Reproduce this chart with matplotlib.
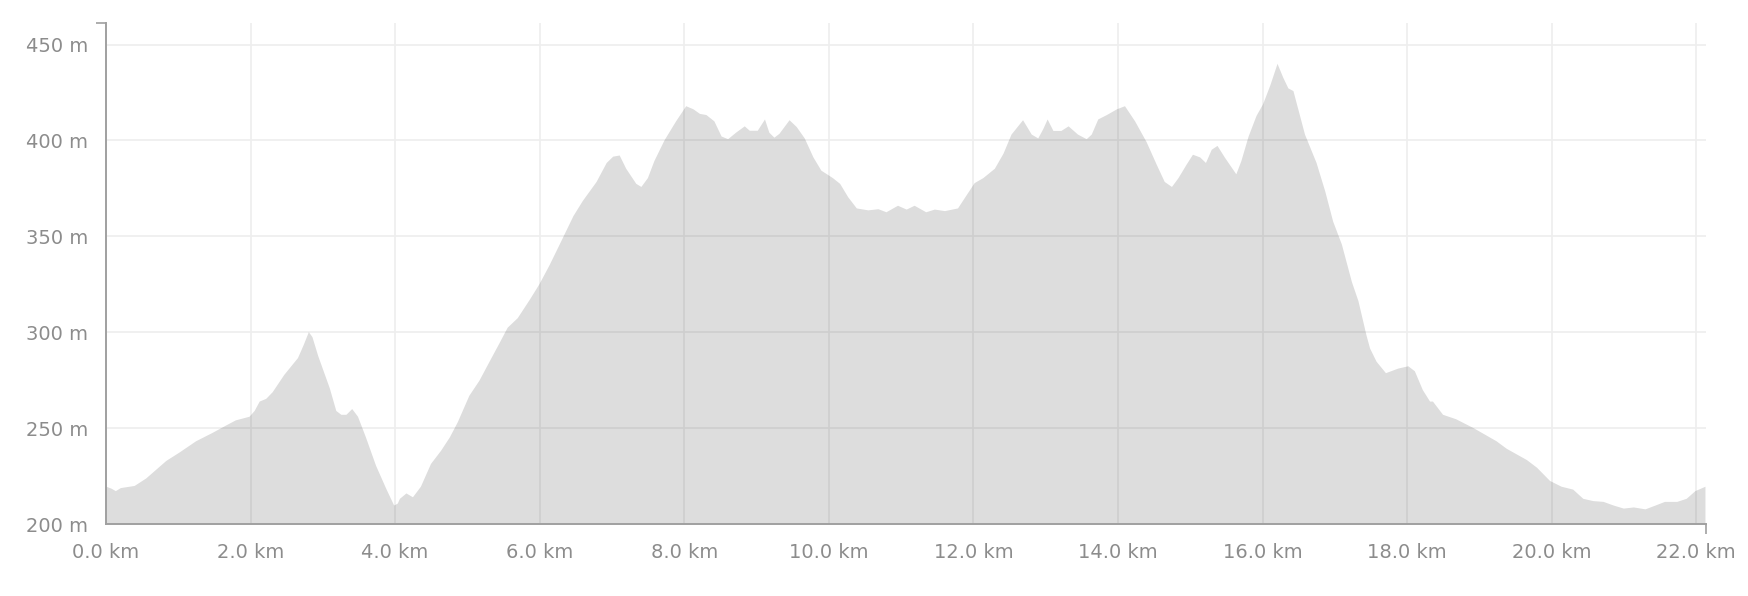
import matplotlib.pyplot as plt
import matplotlib.ticker as mticker

# elevation profile (km, m)
distance_km = [
    0.00, 0.07, 0.13, 0.20, 0.39, 0.55, 0.69, 0.83, 1.01, 1.24, 1.47, 1.66, 1.79, 1.98,
    2.05, 2.12, 2.21, 2.30, 2.46, 2.65, 2.73, 2.80, 2.85, 2.93, 3.09, 3.18, 3.25, 3.32,
    3.40, 3.48, 3.59, 3.73, 3.87, 3.98, 4.03, 4.06, 4.15, 4.24, 4.35, 4.49, 4.63, 4.75,
    4.86, 5.02, 5.16, 5.30, 5.44, 5.55, 5.69, 5.86, 5.99, 6.13, 6.27, 6.46, 6.59, 6.78,
    6.92, 7.01, 7.10, 7.19, 7.33, 7.40, 7.49, 7.58, 7.72, 7.88, 8.02, 8.12, 8.21, 8.30,
    8.41, 8.51, 8.60, 8.71, 8.83, 8.90, 9.01, 9.11, 9.17, 9.24, 9.31, 9.45, 9.55, 9.66,
    9.78, 9.89, 10.05, 10.15, 10.26, 10.38, 10.54, 10.68, 10.79, 10.95, 11.07, 11.18,
    11.34, 11.46, 11.60, 11.78, 11.90, 12.01, 12.13, 12.29, 12.41, 12.52, 12.68, 12.80,
    12.89, 12.96, 13.02, 13.10, 13.21, 13.31, 13.44, 13.56, 13.63, 13.72, 13.84, 13.98,
    14.09, 14.23, 14.39, 14.53, 14.64, 14.74, 14.83, 14.94, 15.03, 15.13, 15.21, 15.29,
    15.37, 15.47, 15.63, 15.70, 15.80, 15.91, 16.00, 16.10, 16.20, 16.28, 16.35, 16.42,
    16.49, 16.58, 16.74, 16.86, 16.97, 17.09, 17.23, 17.32, 17.43, 17.48, 17.57, 17.70,
    17.87, 18.01, 18.10, 18.21, 18.31, 18.35, 18.49, 18.67, 18.91, 19.23, 19.37, 19.65,
    19.79, 19.97, 20.13, 20.29, 20.43, 20.57, 20.71, 20.85, 20.99, 21.13, 21.29, 21.43,
    21.56, 21.73, 21.86, 21.98, 22.12,
]
elevation_m = [
    219.7, 218.7, 217.4, 219.0, 220.1, 224.0, 228.6, 233.2, 237.5, 243.4, 247.8, 251.7, 254.3, 256.2,
    259.2, 264.1, 265.5, 269.0, 278.0, 286.8, 293.7, 300.3, 297.7, 287.8, 271.0, 259.2, 257.2, 257.2,
    260.2, 256.2, 245.4, 230.6, 218.7, 209.9, 210.9, 213.4, 216.2, 214.2, 219.7, 231.6, 238.5, 245.4,
    253.3, 267.1, 275.0, 284.9, 294.7, 302.6, 307.6, 317.4, 325.3, 335.2, 346.0, 360.8, 368.7, 378.6,
    388.5, 391.8, 392.4, 385.5, 377.6, 376.0, 380.6, 389.5, 400.3, 410.2, 418.1, 416.5, 414.1, 413.5,
    410.2, 402.3, 400.9, 404.3, 407.6, 405.3, 405.3, 411.2, 404.3, 401.7, 403.7, 410.8, 407.2, 401.3,
    391.4, 384.5, 380.6, 377.6, 370.7, 364.8, 363.8, 364.4, 362.8, 366.2, 364.2, 366.2,
    362.8, 364.2, 363.4, 364.8, 371.7, 378.0, 380.6, 385.5, 393.4, 403.3, 410.8, 403.3,
    401.3, 406.2, 411.2, 405.2, 405.2, 407.6, 403.3, 400.9, 403.3, 411.2, 413.5, 416.5,
    418.1, 410.2, 399.3, 387.5, 378.6, 376.0, 380.6, 387.5, 392.8, 391.4, 388.5, 395.4,
    397.4, 391.4, 382.6, 389.5, 402.3, 413.1, 419.1, 428.9, 440.2, 432.9, 427.4, 426.0,
    416.1, 403.3, 388.5, 373.7, 357.9, 346.0, 326.3, 316.4, 298.7, 291.8, 284.9, 278.9,
    281.3, 282.5, 279.9, 270.1, 264.1, 264.1, 257.2, 254.9, 250.3, 243.4, 239.5, 233.6,
    229.6, 222.7, 219.7, 218.2, 213.4, 212.2, 211.8, 209.9, 208.3, 208.9, 207.9, 209.9,
    211.8, 211.8, 213.4, 217.4, 219.7,
]

x_ticks = [0, 2, 4, 6, 8, 10, 12, 14, 16, 18, 20, 22]
y_ticks = [200, 250, 300, 350, 400, 450]
x_max = 22.13
y_range = (200, 461)

label_grey = "#8c8c8c"
axis_grey = "#a0a0a0"


def main():
    plt.rcParams["font.family"] = ["DejaVu Sans"]
    fig = plt.figure(figsize=(17.48, 5.96), dpi=100)
    ax = fig.add_axes([0.0606, 0.1208, 0.9152, 0.8399])

    ax.fill_between(distance_km, elevation_m, y_range[0], color="black", alpha=0.135, linewidth=0)

    ax.set_xlim(0, x_max)
    ax.set_ylim(*y_range)
    ax.set_xticks(x_ticks)
    ax.set_yticks(y_ticks)
    ax.xaxis.set_major_formatter(mticker.FuncFormatter(lambda v, _: f"{v:.1f} km"))
    ax.yaxis.set_major_formatter(mticker.FuncFormatter(lambda v, _: f"{v:.0f} m"))

    # end caps of the axis lines
    ax.set_xticks([0, x_max], minor=True)
    ax.set_yticks(list(y_range), minor=True)
    ax.tick_params(which="minor", length=7, width=1.2, color=axis_grey)
    ax.tick_params(which="major", length=0, labelsize=14, labelcolor=label_grey)
    ax.tick_params(axis="y", which="major", pad=13)
    ax.tick_params(axis="x", which="major", pad=14)

    ax.grid(True, which="major", color="#eeeeee", linewidth=1.2)
    ax.set_axisbelow(True)

    for side in ("top", "right"):
        ax.spines[side].set_visible(False)
    for side in ("left", "bottom"):
        ax.spines[side].set_color(axis_grey)
        ax.spines[side].set_linewidth(1.4)

    fig.savefig("out.png", dpi=100)


if __name__ == "__main__":
    main()
